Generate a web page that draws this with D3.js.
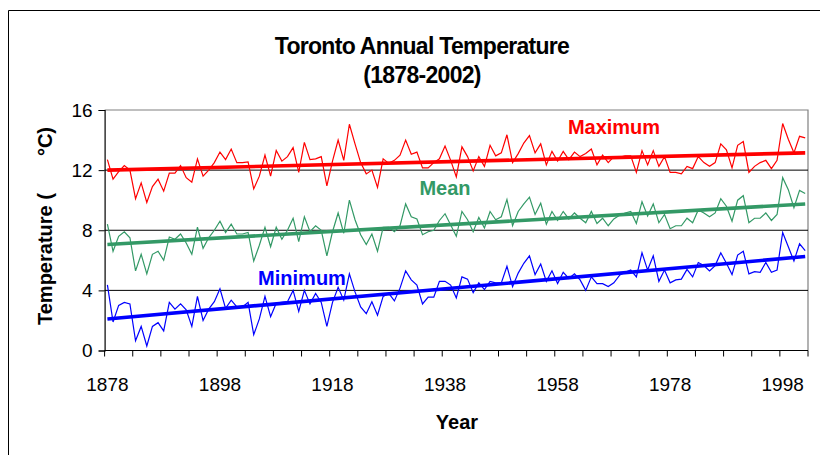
<!DOCTYPE html>
<html><head><meta charset="utf-8">
<script src="https://cdn.jsdelivr.net/npm/d3@7"></script>
<style>
html,body{margin:0;padding:0;background:#fff;}
text{font-family:"Liberation Sans",Arial,sans-serif;}
</style></head>
<body>
<svg id="chart" width="820" height="455"></svg>
<script>
const years = d3.range(1878, 2003);
const maxTemp = [12.7,11.4,11.9,12.3,12.0,10.1,11.15,9.85,10.9,11.4,10.6,11.8,11.8,12.3,11.5,11.2,12.75,11.6,12.0,12.5,13.2,12.7,13.4,12.5,12.5,12.55,10.75,11.6,13.0,11.6,13.3,
12.6,12.9,13.5,11.85,13.85,12.7,12.75,12.9,10.95,12.6,14.0,12.65,15.05,13.75,12.5,11.75,12.0,10.85,12.75,12.45,12.65,13.0,14.0,13.05,13.2,12.15,12.15,12.5,12.75,
13.6,12.65,11.55,13.55,12.9,11.95,12.9,12.25,13.65,12.95,13.15,14.35,12.5,13.1,13.8,14.3,13.15,13.75,12.35,13.25,12.6,13.25,12.7,13.2,12.9,13.1,13.4,12.35,13.0,12.5,12.9,
12.85,12.95,12.95,11.85,13.3,12.35,13.3,12.25,12.9,11.85,11.85,11.75,12.25,12.1,12.9,12.5,12.25,12.5,13.75,13.35,12.15,13.65,13.9,11.85,12.25,12.5,12.65,12.1,12.65,15.1,14.05,13.15,14.25,14.15];
const meanTemp = [8.4,6.6,7.6,7.9,7.5,5.3,6.4,5.1,6.4,6.6,6.0,7.55,7.4,7.75,7.15,6.4,8.2,6.8,7.5,8.0,8.6,7.85,8.4,7.75,7.75,7.85,5.95,7.0,8.2,6.9,8.2,
7.4,8.0,8.8,7.25,8.9,7.9,8.3,8.0,6.3,7.9,9.15,7.8,10.0,8.7,7.7,7.05,7.75,6.6,8.2,8.2,7.9,8.3,9.75,8.9,8.75,7.7,7.9,8.0,8.65,
9.1,8.35,7.6,9.25,8.7,7.9,8.85,8.15,9.25,8.7,8.9,10.05,8.3,9.25,9.75,10.2,9.05,9.8,8.4,9.25,8.65,9.25,8.75,9.15,8.8,8.5,9.25,8.45,8.8,8.3,8.75,
9.0,9.15,9.25,8.45,9.9,8.95,9.75,8.5,9.05,8.1,8.3,8.3,8.8,8.5,9.35,9.15,8.9,9.15,10.1,9.6,8.6,10.0,10.3,8.5,8.8,8.8,9.15,8.65,9.05,11.5,10.7,9.5,10.65,10.45];
const minTemp = [4.37,1.9,3.0,3.2,3.1,0.65,1.6,0.3,1.6,1.85,1.3,3.2,2.75,3.1,2.7,1.6,3.6,2.0,2.75,3.25,4.1,2.8,3.35,2.9,2.9,3.2,1.05,2.1,3.6,2.25,3.15,
3.2,3.25,4.0,2.6,4.0,3.1,3.8,3.2,1.6,3.2,4.2,3.35,5.1,3.9,2.9,2.45,3.25,2.35,3.6,3.8,3.3,4.15,5.3,4.7,4.35,3.1,3.55,3.55,4.6,
4.6,4.35,3.5,4.9,4.75,3.85,4.5,4.05,4.6,4.5,4.5,5.6,4.25,5.15,5.8,6.3,5.05,5.75,4.6,5.3,4.45,5.2,4.8,5.1,4.7,4.0,4.9,4.45,4.45,4.25,4.5,
5.0,5.2,5.35,4.9,6.5,5.35,6.3,4.6,5.35,4.5,4.7,4.75,5.4,4.9,5.85,5.65,5.3,5.65,6.5,5.8,5.05,6.35,6.6,5.1,5.25,5.2,5.85,5.2,5.35,7.85,6.9,5.95,7.1,6.65];
// linear trend values at 1878 and 2002
const trendStart = [12.0, 7.05, 2.1];
const trendEnd = [13.15, 9.75, 6.25];
const yTicks = [0, 4, 8, 12, 16];
const xLabelYears = [1878, 1898, 1918, 1938, 1958, 1978, 1998];
const seriesNames = ["Maximum", "Mean", "Minimum"];
const seriesColors = ["#FF0000", "#339966", "#0000FF"];

const svg = d3.select("#chart");
const L = 104.6, R = 808, T = 110, B = 350.5;

// chart frame
svg.append("path").attr("d", `M8.5,455 V10.5 H820`).attr("fill","none").attr("stroke","#000").attr("stroke-width",1);

const x = d3.scaleBand().domain(years).range([L, R]).paddingInner(0).paddingOuter(0);
const y = d3.scaleLinear().domain([0, 16]).range([B, T]);
const cx = yr => x(yr) + x.bandwidth() / 2;

// plot area top/right border
svg.append("path").attr("d", `M${L},${T} H${R} V${B}`).attr("fill","none").attr("stroke","#808080").attr("stroke-width",1.2);

// gridlines
svg.append("g").selectAll("line").data(yTicks.filter(v => v > 0 && v < 16)).join("line")
  .attr("x1", L).attr("x2", R).attr("y1", d => y(d)).attr("y2", d => y(d))
  .attr("stroke", "#000").attr("stroke-width", 1);

// y axis
const yAxis = d3.axisLeft(y).tickValues(yTicks).tickSize(6).tickPadding(6);
const gy = svg.append("g").attr("transform", `translate(${L},0)`).call(yAxis);
gy.select(".domain").attr("stroke","#000").attr("stroke-width",1.2);
gy.selectAll(".tick line").attr("stroke","#000");
gy.selectAll(".tick text").attr("font-size", 19).attr("font-family","Liberation Sans, Arial, sans-serif").attr("fill","#000");

// x axis: ticks every 5 categories at band boundaries
const tickYears = years.filter((d, i) => i % 5 === 0).concat([2003]);
const xPos = yr => yr === 2003 ? R : x(yr);
const gx = svg.append("g");
gx.append("line").attr("x1", L).attr("x2", R).attr("y1", B).attr("y2", B).attr("stroke","#000").attr("stroke-width",1.2);
gx.selectAll("line.tk").data(tickYears).join("line").attr("class","tk")
  .attr("x1", d => xPos(d)).attr("x2", d => xPos(d)).attr("y1", B).attr("y2", B + 6)
  .attr("stroke","#000");
gx.selectAll("text").data(xLabelYears).join("text")
  .attr("x", d => cx(d)).attr("y", 390.5).attr("text-anchor","middle")
  .attr("font-size", 19).attr("fill","#000").text(d => d);

// series
const allSeries = [maxTemp, meanTemp, minTemp];
const line = d3.line().x((d, i) => cx(years[i])).y(d => y(d));
allSeries.forEach((vals, k) => {
  const n = vals.length;
  svg.append("path").datum(vals).attr("d", line).attr("fill","none")
    .attr("stroke", seriesColors[k]).attr("stroke-width", 1.2).attr("stroke-linejoin","miter");
  svg.append("line")
    .attr("x1", cx(years[0])).attr("x2", cx(years[n - 1]))
    .attr("y1", y(trendStart[k])).attr("y2", y(trendEnd[k]))
    .attr("stroke", seriesColors[k]).attr("stroke-width", 3.6);
});

// series labels
const labelPos = [[614, 134], [445, 195], [302, 285]];
seriesNames.forEach((nm, k) => {
  svg.append("text").attr("x", labelPos[k][0]).attr("y", labelPos[k][1]).attr("text-anchor","middle")
    .attr("font-size", 20).attr("font-weight","bold").attr("fill", seriesColors[k]).text(nm);
});

// title
svg.append("text").attr("x", 422).attr("y", 54).attr("text-anchor","middle")
  .attr("font-size", 23).attr("font-weight","bold").attr("letter-spacing","-0.7").text("Toronto Annual Temperature");
svg.append("text").attr("x", 422).attr("y", 83).attr("text-anchor","middle")
  .attr("font-size", 23).attr("font-weight","bold").attr("letter-spacing","-0.7").text("(1878-2002)");

// axis titles
svg.append("text").attr("x", 457).attr("y", 429).attr("text-anchor","middle")
  .attr("font-size", 20).attr("font-weight","bold").text("Year");
svg.append("text").attr("transform","translate(52,325) rotate(-90)").attr("text-anchor","start")
  .attr("font-size", 20).attr("font-weight","bold").text("Temperature (");
svg.append("text").attr("transform","translate(52,127) rotate(-90)").attr("text-anchor","end")
  .attr("font-size", 20).attr("font-weight","bold").text("°C)");
</script>
</body></html>
